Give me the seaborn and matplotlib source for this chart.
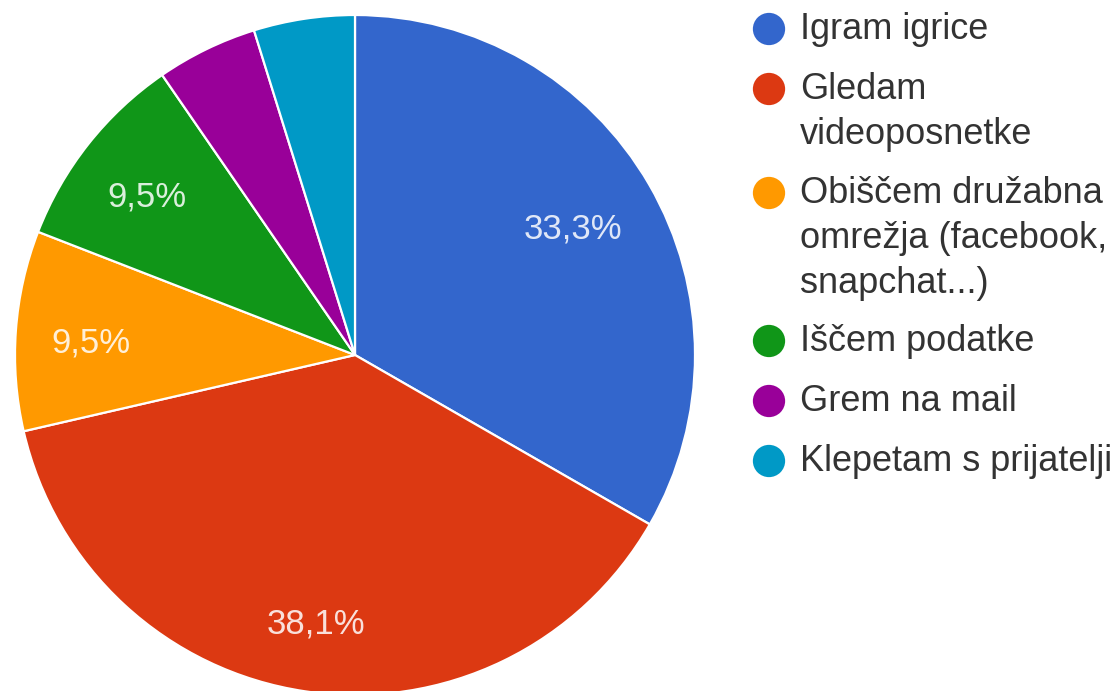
import matplotlib
matplotlib.use("Agg")
import matplotlib.pyplot as plt
import matplotlib.transforms as mtransforms
import seaborn as sns

# Survey answers (share of respondents, %)
categories = [
    "Igram igrice",
    "Gledam videoposnetke",
    "Obiščem družabna omrežja (facebook, snapchat...)",
    "Iščem podatke",
    "Grem na mail",
    "Klepetam s prijatelji",
]
shares = [33.3, 38.1, 9.5, 9.5, 4.8, 4.8]
# Legend text as wrapped in the legend column
legend_lines = [
    ["Igram igrice"],
    ["Gledam", "videoposnetke"],
    ["Obiščem družabna", "omrežja (facebook,", "snapchat...)"],
    ["Iščem podatke"],
    ["Grem na mail"],
    ["Klepetam s prijatelji"],
]
palette = sns.color_palette(
    ["#3366cc", "#dc3912", "#ff9900", "#109618", "#990099", "#0099c6"]
)

sns.set_theme(style="white")
plt.rcParams["font.family"] = ["Liberation Sans", "DejaVu Sans"]

W, H, DPI = 1117, 691, 100
fig = plt.figure(figsize=(W / DPI, H / DPI), dpi=DPI, facecolor="white")

# Pie axes: centre (355, 355) px, radius 340 px
cx, cy, r = 355, 355, 340
ax = fig.add_axes([(cx - r) / W, (H - cy - r) / H, 2 * r / W, 2 * r / H])


def pct_label(p):
    return f"{p:.1f}%".replace(".", ",") if p >= 5 else ""


wedges, _, autotexts = ax.pie(
    shares,
    colors=palette,
    startangle=90,
    counterclock=False,
    radius=1,
    autopct=pct_label,
    pctdistance=0.78,
    wedgeprops=dict(edgecolor="white", linewidth=1.6),
    textprops=dict(color="white", fontsize=25, alpha=0.85),
)
ax.set_xlim(-1, 1)
ax.set_ylim(-1, 1)
ax.set_aspect("equal")
ax.axis("off")
for w in wedges:
    w.set_clip_on(False)

# nudge the percentage labels slightly below their anchor points
nudge = mtransforms.ScaledTranslation(0, -7 / DPI, fig.dpi_scale_trans)
for t in autotexts:
    t.set_transform(t.get_transform() + nudge)
autotexts[0].set_transform(
    autotexts[0].get_transform()
    + mtransforms.ScaledTranslation(-12 / DPI, 0, fig.dpi_scale_trans)
)

# Legend column drawn in pixel coordinates
lax = fig.add_axes([0, 0, 1, 1])
lax.set_xlim(0, W)
lax.set_ylim(H, 0)
lax.axis("off")

y = 29
for color, lines in zip(palette, legend_lines):
    lax.scatter([769], [y], s=540, color=color, edgecolors="none")
    for i, line in enumerate(lines):
        lax.text(800, y + 45 * i, line, fontsize=26, color="#333333",
                 va="center", ha="left")
    y += 60 + 44 * (len(lines) - 1)

fig.savefig("out.png", dpi=DPI, facecolor="white")
